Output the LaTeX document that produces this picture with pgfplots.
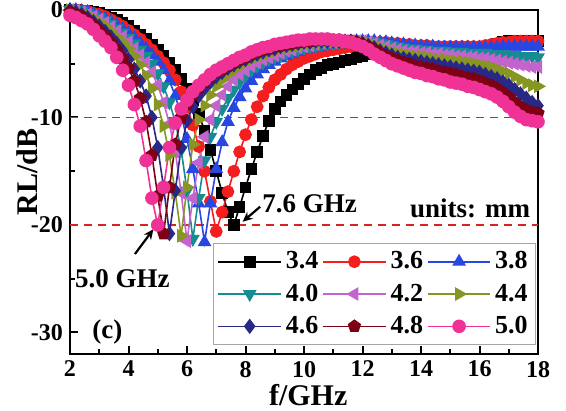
\documentclass[border=0pt]{standalone}
\usepackage{fontspec}
\setmainfont{Liberation Serif}
\usepackage{pgfplots}
\usepackage{pgfplotstable}
\pgfplotsset{compat=1.18}
\usetikzlibrary{arrows.meta}

\definecolor{cRed}{RGB}{245,30,30}
\definecolor{cBlue}{RGB}{40,70,225}
\definecolor{cTeal}{RGB}{20,140,145}
\definecolor{cViolet}{RGB}{195,100,205}
\definecolor{cOlive}{RGB}{135,150,35}
\definecolor{cNavy}{RGB}{40,40,135}
\definecolor{cDkRed}{RGB}{125,0,20}
\definecolor{cPink}{RGB}{240,50,150}
\definecolor{cDash}{RGB}{215,35,35}

% f, RL for thickness 3.4 3.6 3.8 4.0 4.2 4.4 4.6 4.8 5.0 mm
\pgfplotstableread{
f a b c d e g h i j
2.0 0 0 0 0 0 0 0 -0.2 -0.5
2.2 0 0 0 0 -0.05 -0.1 -0.2 -0.4 -0.7
2.4 -0.05 -0.05 -0.1 -0.1 -0.2 -0.3 -0.4 -0.6 -1.0
2.6 -0.1 -0.1 -0.2 -0.3 -0.4 -0.5 -0.7 -1.0 -1.3
2.8 -0.2 -0.3 -0.4 -0.5 -0.6 -0.8 -1.1 -1.4 -1.8
3.0 -0.3 -0.4 -0.6 -0.7 -0.9 -1.1 -1.5 -1.9 -2.4
3.2 -0.5 -0.6 -0.8 -1.0 -1.2 -1.5 -2.0 -2.4 -2.9
3.4 -0.7 -0.9 -1.1 -1.3 -1.6 -2.0 -2.5 -3.0 -3.5
3.6 -0.9 -1.2 -1.4 -1.7 -2.0 -2.5 -3.1 -3.7 -4.4
3.8 -1.2 -1.5 -1.8 -2.1 -2.5 -3.0 -3.8 -4.5 -5.6
4.0 -1.5 -1.9 -2.2 -2.6 -3.0 -3.6 -4.6 -5.4 -7.0
4.2 -1.9 -2.3 -2.6 -3.1 -3.6 -4.3 -5.5 -6.6 -8.8
4.4 -2.3 -2.7 -3.1 -3.7 -4.2 -5.1 -6.6 -8.2 -10.8
4.6 -2.7 -3.2 -3.6 -4.3 -4.9 -6.1 -8.0 -10.4 -14.0
4.8 -3.2 -3.7 -4.2 -5.0 -5.8 -7.3 -10.0 -13.5 -17.5
5.0 -3.7 -4.3 -4.8 -5.9 -7.0 -8.8 -12.8 -17.3 -20.0
5.2 -4.3 -4.9 -5.6 -7.1 -8.6 -10.8 -16.5 -20.8 -16.5
5.4 -4.9 -5.6 -6.6 -8.6 -10.6 -13.5 -20.8 -16.5 -12.8
5.6 -5.6 -6.5 -8.0 -10.4 -13.2 -17.0 -16.8 -12.5 -10.5
5.8 -6.4 -7.6 -9.8 -13.0 -17.0 -21.0 -12.8 -10.0 -9.2
6.0 -7.3 -9.0 -12.0 -16.8 -21.5 -16.5 -10.3 -8.8 -8.4
6.2 -8.4 -10.7 -14.8 -21.3 -17.5 -12.5 -9.0 -7.9 -7.6
6.4 -9.7 -12.7 -18.0 -17.5 -14.2 -10.2 -8.0 -7.3 -7.0
6.6 -11.2 -15.0 -21.6 -14.0 -11.8 -8.9 -7.3 -6.7 -6.5
6.8 -13.0 -17.8 -18.0 -11.8 -10.2 -7.9 -6.7 -6.2 -6.0
7.0 -15.0 -20.6 -14.8 -10.4 -8.9 -7.1 -6.2 -5.8 -5.6
7.2 -17.0 -18.8 -12.3 -9.2 -7.9 -6.5 -5.8 -5.5 -5.3
7.4 -18.8 -16.9 -10.4 -8.2 -7.1 -6.0 -5.4 -5.2 -5.0
7.6 -20.0 -15.0 -9.1 -7.4 -6.5 -5.6 -5.1 -4.9 -4.7
7.8 -18.3 -13.2 -8.1 -6.7 -6.0 -5.2 -4.8 -4.6 -4.4
8.0 -16.5 -11.6 -7.3 -6.1 -5.6 -4.9 -4.6 -4.4 -4.2
8.2 -14.8 -10.2 -6.6 -5.6 -5.2 -4.6 -4.3 -4.1 -3.9
8.4 -13.2 -9.0 -6.0 -5.2 -4.9 -4.4 -4.1 -3.9 -3.7
8.6 -11.7 -8.0 -5.5 -4.9 -4.6 -4.2 -3.9 -3.7 -3.5
8.8 -10.3 -7.2 -5.1 -4.6 -4.4 -4.0 -3.7 -3.6 -3.4
9.0 -9.2 -6.5 -4.8 -4.4 -4.2 -3.8 -3.6 -3.4 -3.2
9.2 -8.5 -6.0 -4.5 -4.2 -4.0 -3.6 -3.4 -3.3 -3.1
9.4 -7.9 -5.5 -4.3 -4.0 -3.8 -3.5 -3.3 -3.2 -3.0
9.6 -7.4 -5.1 -4.1 -3.8 -3.7 -3.4 -3.2 -3.1 -2.9
9.8 -6.9 -4.8 -3.9 -3.7 -3.5 -3.3 -3.1 -3.0 -2.8
10.0 -6.4 -4.5 -3.7 -3.5 -3.4 -3.2 -3.0 -2.9 -2.8
10.2 -6.0 -4.3 -3.6 -3.4 -3.3 -3.1 -3.0 -2.9 -2.7
10.4 -5.6 -4.1 -3.5 -3.3 -3.2 -3.0 -2.9 -2.8 -2.7
10.6 -5.4 -3.9 -3.4 -3.2 -3.1 -3.0 -2.9 -2.8 -2.7
10.8 -5.1 -3.8 -3.3 -3.1 -3.0 -2.9 -2.9 -2.8 -2.7
11.0 -5.0 -3.7 -3.2 -3.1 -3.0 -2.9 -2.9 -2.8 -2.8
11.2 -4.9 -3.6 -3.1 -3.0 -2.9 -2.9 -2.9 -2.8 -2.8
11.4 -4.7 -3.5 -3.0 -3.0 -2.9 -2.9 -2.9 -2.9 -2.9
11.6 -4.6 -3.4 -3.0 -2.9 -2.9 -2.9 -2.9 -2.9 -3.0
11.8 -4.4 -3.3 -2.9 -2.9 -2.9 -2.9 -3.0 -3.0 -3.2
12.0 -4.3 -3.2 -2.9 -2.9 -2.9 -3.0 -3.1 -3.2 -3.4
12.2 -4.1 -3.1 -2.9 -2.9 -3.0 -3.1 -3.3 -3.4 -3.7
12.4 -3.9 -3.0 -2.9 -3.0 -3.1 -3.3 -3.5 -3.7 -4.1
12.6 -3.8 -3.0 -3.0 -3.1 -3.3 -3.5 -3.8 -4.0 -4.4
12.8 -3.7 -3.0 -3.0 -3.2 -3.4 -3.7 -4.0 -4.3 -4.7
13.0 -3.6 -3.1 -3.1 -3.3 -3.6 -3.9 -4.2 -4.5 -5.0
13.2 -3.6 -3.1 -3.2 -3.4 -3.7 -4.0 -4.4 -4.7 -5.2
13.4 -3.6 -3.2 -3.2 -3.5 -3.8 -4.1 -4.5 -4.9 -5.4
13.6 -3.6 -3.2 -3.3 -3.6 -3.9 -4.2 -4.6 -5.0 -5.6
13.8 -3.6 -3.3 -3.3 -3.6 -3.9 -4.3 -4.7 -5.2 -5.8
14.0 -3.6 -3.3 -3.4 -3.7 -4.0 -4.3 -4.8 -5.3 -5.9
14.2 -3.6 -3.3 -3.4 -3.7 -4.0 -4.4 -4.9 -5.4 -6.1
14.4 -3.6 -3.4 -3.4 -3.8 -4.1 -4.5 -5.0 -5.5 -6.2
14.6 -3.6 -3.4 -3.5 -3.8 -4.1 -4.6 -5.1 -5.7 -6.4
14.8 -3.6 -3.4 -3.5 -3.8 -4.2 -4.6 -5.2 -5.8 -6.5
15.0 -3.6 -3.4 -3.5 -3.9 -4.2 -4.7 -5.3 -5.9 -6.7
15.2 -3.6 -3.4 -3.5 -3.9 -4.3 -4.8 -5.4 -6.0 -6.8
15.4 -3.6 -3.4 -3.5 -3.9 -4.3 -4.8 -5.5 -6.2 -6.9
15.6 -3.6 -3.4 -3.5 -4.0 -4.4 -4.9 -5.6 -6.3 -7.1
15.8 -3.5 -3.4 -3.5 -4.0 -4.4 -5.0 -5.7 -6.4 -7.2
16.0 -3.5 -3.4 -3.5 -4.0 -4.5 -5.1 -5.8 -6.6 -7.4
16.2 -3.4 -3.3 -3.5 -4.0 -4.5 -5.2 -6.0 -6.8 -7.6
16.4 -3.3 -3.2 -3.5 -4.1 -4.6 -5.3 -6.2 -7.0 -7.8
16.6 -3.1 -3.1 -3.5 -4.1 -4.7 -5.5 -6.4 -7.3 -8.1
16.8 -3.0 -3.0 -3.4 -4.1 -4.8 -5.7 -6.7 -7.7 -8.5
17.0 -2.9 -3.0 -3.4 -4.2 -4.9 -5.9 -7.0 -8.1 -9.0
17.2 -2.9 -2.9 -3.4 -4.2 -5.0 -6.2 -7.4 -8.6 -9.5
17.4 -2.9 -2.9 -3.4 -4.3 -5.1 -6.5 -7.8 -9.0 -9.9
17.6 -2.9 -2.9 -3.4 -4.3 -5.2 -6.8 -8.2 -9.3 -10.2
17.8 -2.9 -2.9 -3.4 -4.3 -5.3 -7.0 -8.6 -9.5 -10.3
18.0 -2.9 -2.9 -3.4 -4.4 -5.3 -7.1 -8.9 -9.6 -10.4
}\rl

\begin{document}
\begin{tikzpicture}
\begin{axis}[
  width=234pt, height=172pt, scale only axis,
  xmin=2, xmax=18, ymin=-32, ymax=0,
  xtick={2,4,...,18}, xticklabels={2,4,6,8,10,12,14,16,18},
  ytick={-30,-20,-10,0}, yticklabels={-30,-20,-10,0},
  minor x tick num=1, minor y tick num=1,
  tick pos=left, tick align=inside,
  major tick length=4pt, minor tick length=2.5pt,
  every tick/.style={black, line width=1pt},
  axis line style={line width=1.2pt},
  tick label style={font=\bfseries\fontsize{12}{12}\selectfont},
  xlabel={f/GHz}, ylabel={RL/dB},
  label style={font=\bfseries\fontsize{15}{15}\selectfont},
  xlabel style={at={(axis description cs:0.509,-0.119)}, anchor=center},
  ylabel style={at={(axis description cs:-0.092,0.53)}, anchor=center},
  legend columns=3,
  legend cell align=left,
  legend style={at={(axis description cs:0.3056,0.3227)}, anchor=north west,
    draw=gray!70, line width=0.6pt, fill=white, inner sep=2pt,
    font=\bfseries\fontsize{13}{13}\selectfont, row sep=2pt},
  legend image code/.code={\draw[mark repeat=2,mark phase=2,#1] plot coordinates {(0cm,0cm) (0.55cm,0cm) (1.1cm,0cm)};},
  every axis plot/.append style={line width=0.8pt},
]
\addplot[forget plot, cDash, line width=0.8pt, dash pattern=on 4pt off 3pt] coordinates {(2,-10) (18,-10)};
\addplot[forget plot, cDash, line width=0.8pt, dash pattern=on 4pt off 3pt] coordinates {(2,-20) (18,-20)};

\addplot[black, mark=square*, mark size=2.5pt] table[x=f, y=a] {\rl};
\addplot[cRed, mark=*, mark size=2.8pt] table[x=f, y=b] {\rl};
\addplot[cBlue, mark=triangle*, mark size=3.2pt] table[x=f, y=c] {\rl};
\addplot[cTeal, mark=triangle*, mark size=3.2pt, mark options={rotate=180}] table[x=f, y=d] {\rl};
\addplot[cViolet, mark=triangle*, mark size=3.2pt, mark options={rotate=90}] table[x=f, y=e] {\rl};
\addplot[cOlive, mark=triangle*, mark size=3.2pt, mark options={rotate=-90}] table[x=f, y=g] {\rl};
\addplot[cNavy, mark=diamond*, mark size=3.2pt] table[x=f, y=h] {\rl};
\addplot[cDkRed, mark=pentagon*, mark size=3pt] table[x=f, y=i] {\rl};
\addplot[cPink, mark=*, mark size=3pt] table[x=f, y=j] {\rl};
\legend{3.4,3.6,3.8,4.0,4.2,4.4,4.6,4.8,5.0}

\node[anchor=base, font=\bfseries\fontsize{13.5}{13.5}\selectfont] at (axis cs:10.19,-18.8) {7.6 GHz};
\node[anchor=base, font=\bfseries\fontsize{13.5}{13.5}\selectfont] at (axis cs:15.68,-19.3) {units: mm};
\node[anchor=base, font=\bfseries\fontsize{13.5}{13.5}\selectfont] at (axis cs:3.79,-25.8) {5.0 GHz};
\node[anchor=base, font=\bfseries\fontsize{13.5}{13.5}\selectfont] at (axis cs:3.28,-30.6) {(c)};
\draw[-{Stealth[length=5pt,width=4.5pt]}, line width=1.1pt] (axis cs:8.50,-18.3) -- (axis cs:7.90,-19.7);
\draw[-{Stealth[length=5pt,width=4.5pt]}, line width=1.1pt] (axis cs:4.22,-22.7) -- (axis cs:4.85,-20.4);
\end{axis}
\pgfresetboundingbox
\path[use as bounding box] (-35pt,-28.5pt) rectangle (248pt,177pt);
\end{tikzpicture}
\end{document}
